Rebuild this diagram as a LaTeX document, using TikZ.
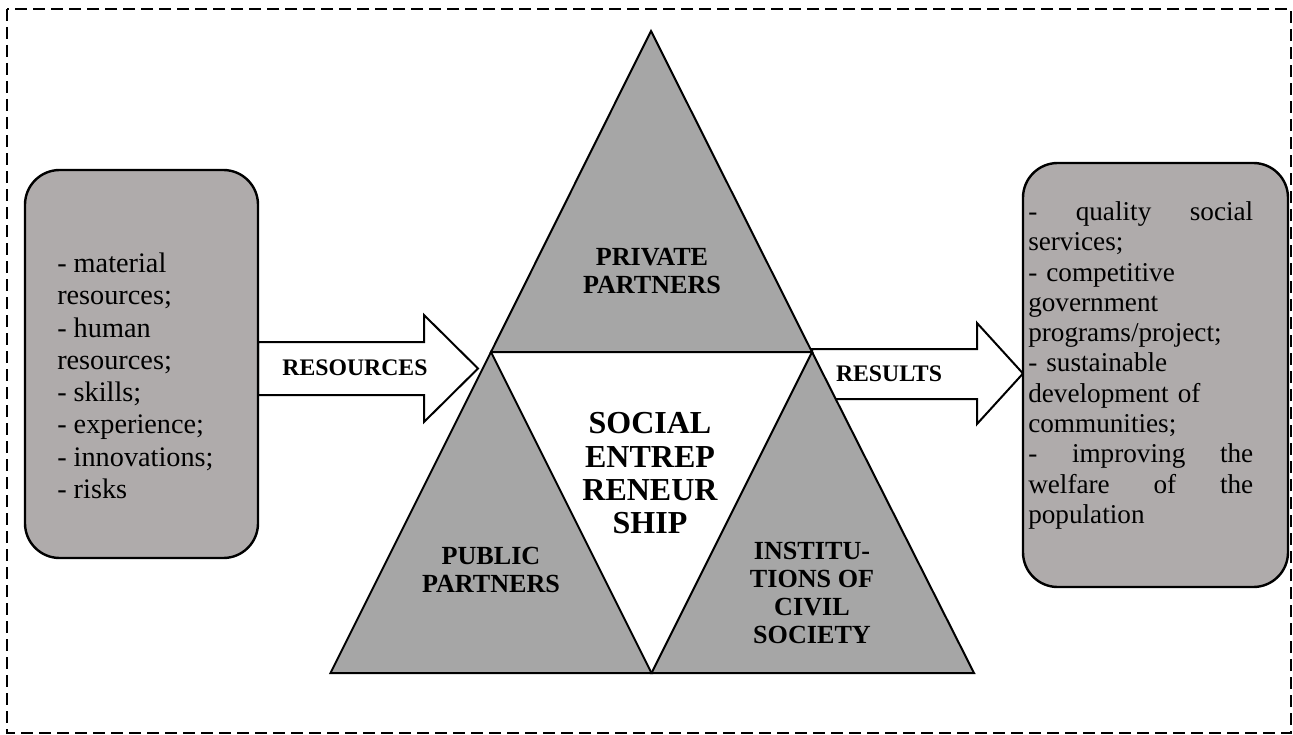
\documentclass[tikz,border=0pt]{standalone}
\usepackage{fontspec}
\setmainfont{Liberation Serif}
\definecolor{boxgray}{RGB}{175,171,171}
\definecolor{trigray}{RGB}{166,166,166}
\begin{document}
\begin{tikzpicture}[x=0.75pt,y=-0.75pt,
  frame/.style={line width=1.1pt, dash pattern=on 9pt off 4.5pt},
  roundbox/.style={draw, line width=1.8pt, fill=boxgray, rounded corners=26pt},
  bigarrow/.style={draw, line width=1.5pt, fill=white, line join=miter},
  tri/.style={draw, line width=1.5pt, fill=trigray, line join=miter},
  arrowlabel/.style={font=\fontsize{17.8}{21}\selectfont\bfseries, inner sep=0pt},
  trilabel/.style={font=\fontsize{19.6}{21}\selectfont\bfseries, align=center, inner sep=0pt},
  listtext/.style={inner sep=0pt, anchor=north west, align=left}
]
\useasboundingbox (0,0) rectangle (1293,735);
\draw[frame] (7,9) rectangle (1291,733);

% triangle vertices
\coordinate (A) at (651,31);
\coordinate (L) at (491,352);
\coordinate (R) at (812,352);
\coordinate (B) at (651.5,673);
\coordinate (LL) at (330.5,673);
\coordinate (RR) at (974,673);

% block arrows
\draw[bigarrow] (258,342) -- (424,342) -- (424,315) -- (478,368.5) -- (424,422) -- (424,395) -- (258,395) -- cycle;
\draw[bigarrow] (812,349) -- (977,349) -- (977,323) -- (1023,373.5) -- (977,424) -- (977,399) -- (812,399) -- cycle;

% side boxes
\draw[roundbox] (25,170) rectangle (258,558);
\draw[roundbox] (1023,163) rectangle (1288,587);

% triangles
\draw[tri] (A) -- (L) -- (R) -- cycle;
\draw[tri] (L) -- (LL) -- (B) -- cycle;
\draw[tri] (R) -- (B) -- (RR) -- cycle;

% labels
\node[arrowlabel] (res) at (355,368) {RESOURCES};
\node[arrowlabel] (rsl) at (889,373.5) {RESULTS};
\node[trilabel] (priv) at (652,271) {PRIVATE\\PARTNERS};
\node[trilabel, font=\fontsize{19.6}{20.3}\selectfont\bfseries] (pub) at (491,570) {PUBLIC\\PARTNERS};
\node[trilabel, font=\fontsize{24}{25}\selectfont\bfseries] (se) at (650,473.5) {SOCIAL\\ENTREP\\RENEUR\\SHIP};
\node[trilabel, font=\fontsize{19.6}{20.8}\selectfont\bfseries] (civ) at (812,593) {INSTITU-\\TIONS OF\\CIVIL\\SOCIETY};

\node[listtext, font=\fontsize{21.2}{24.2}\selectfont] (inlist) at (57,252.7)
  {- material\\resources;\\- human\\resources;\\- skills;\\- experience;\\- innovations;\\- risks};
\node[listtext, text width=168.75pt, font=\fontsize{20.4}{22.7}\selectfont] (outlist) at (1028,201.5)
  {-\hfill quality\hfill social\\services;\\- competitive\\government\\programs/project;\\- sustainable\\development of\\communities;\\-\hfill improving\hfill the\\welfare\hfill of\hfill the\\population};
\end{tikzpicture}
\end{document}
